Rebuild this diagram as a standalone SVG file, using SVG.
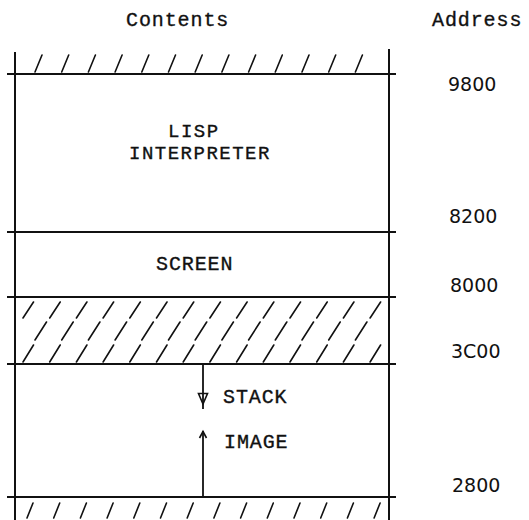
<svg xmlns="http://www.w3.org/2000/svg" width="529" height="520" viewBox="0 0 529 520">
<style>
.ln{stroke:#111;stroke-width:2;fill:none;stroke-linecap:square}
.ht{stroke:#111;stroke-width:1.6;fill:none;stroke-linecap:round}
.lbl{font-family:"Liberation Mono","DejaVu Sans Mono",monospace;font-size:20px;letter-spacing:0.9px;fill:#111;stroke:#111;stroke-width:0.35px}
.sm{font-size:19px;letter-spacing:1.5px}
.num{font-family:"DejaVu Sans","Liberation Sans",sans-serif;font-size:19px;fill:#111}
</style>
<rect width="529" height="520" fill="#fff"/>
<g id="headers">
<text class="lbl" x="126" y="26">Contents</text>
<text class="lbl" x="432" y="26">Address</text>
</g>
<g id="frame">
<path class="ln" d="M15 53V520M389 50V520M8 74H395M8 232H395M8 297H395M8 364H395M8 497H395"/>
</g>
<g id="reserved-top">
<path class="ht" d="M35 72L42 55M61.7 72L68.7 55M88.4 72L95.4 55M115.1 72L122.1 55M141.8 72L148.8 55M168.5 72L175.5 55M195.2 72L202.2 55M221.9 72L228.9 55M248.6 72L255.6 55M275.3 72L282.3 55M302 72L309 55M328.7 72L335.7 55M355.4 72L362.4 55"/>
</g>
<g id="lisp-interpreter">
<text class="lbl sm" x="168" y="136.5">LISP</text>
<text class="lbl sm" x="129" y="158.5">INTERPRETER</text>
</g>
<g id="screen">
<text class="lbl" x="156" y="270">SCREEN</text>
</g>
<g id="free-hatched">
<path class="ht" d="M23 318L33.5 302M49.7 318L60.2 302M76.4 318L86.9 302M103.1 318L113.6 302M129.8 318L140.3 302M156.5 318L167 302M183.2 318L193.7 302M209.9 318L220.4 302M236.6 318L247.1 302M263.3 318L273.8 302M290 318L300.5 302M316.7 318L327.2 302M343.4 318L353.9 302M370.1 318L380.6 302"/>
<path class="ht" d="M35 340L46.5 322M61.7 340L73.2 322M88.4 340L99.9 322M115.1 340L126.6 322M141.8 340L153.3 322M168.5 340L180 322M195.2 340L206.7 322M221.9 340L233.4 322M248.6 340L260.1 322M275.3 340L286.8 322M302 340L313.5 322M328.7 340L340.2 322M355.4 340L366.9 322"/>
<path class="ht" d="M23 362L33.5 345M49.7 362L60.2 345M76.4 362L86.9 345M103.1 362L113.6 345M129.8 362L140.3 345M156.5 362L167 345M183.2 362L193.7 345M209.9 362L220.4 345M236.6 362L247.1 345M263.3 362L273.8 345M290 362L300.5 345M316.7 362L327.2 345M343.4 362L353.9 345M370.1 362L380.6 345"/>
</g>
<g id="stack-image">
<text class="lbl" x="223" y="403">STACK</text>
<text class="lbl" x="224" y="448">IMAGE</text>
</g>
<g id="reserved-bottom">
<path class="ht" d="M27 518L33 503M53.7 518L59.7 503M80.4 518L86.4 503M107.1 518L113.1 503M133.8 518L139.8 503M160.5 518L166.5 503M187.2 518L193.2 503M213.9 518L219.9 503M240.6 518L246.6 503M267.3 518L273.3 503M294 518L300 503M320.7 518L326.7 503M347.4 518L353.4 503M374.1 518L380.1 503"/>
</g>
<g id="connectors">
<path class="ln" style="stroke-width:1.8" d="M203 365V408"/>
<path style="stroke:#111;stroke-width:1.6;fill:none;stroke-linejoin:miter" d="M198.5 393.5H207.5L203 404Z"/>
<path class="ln" style="stroke-width:1.8" d="M203 496V432"/>
<path style="stroke:#111;stroke-width:1.6;fill:none" d="M199.5 438L203 431.5L206.5 438"/>
</g>
<g id="addresses">
<text class="num" x="448" y="91">9800</text>
<text class="num" x="449" y="223">8200</text>
<text class="num" x="450" y="292">8000</text>
<text class="num" x="451" y="358">3C00</text>
<text class="num" x="452" y="492">2800</text>
</g>
</svg>
